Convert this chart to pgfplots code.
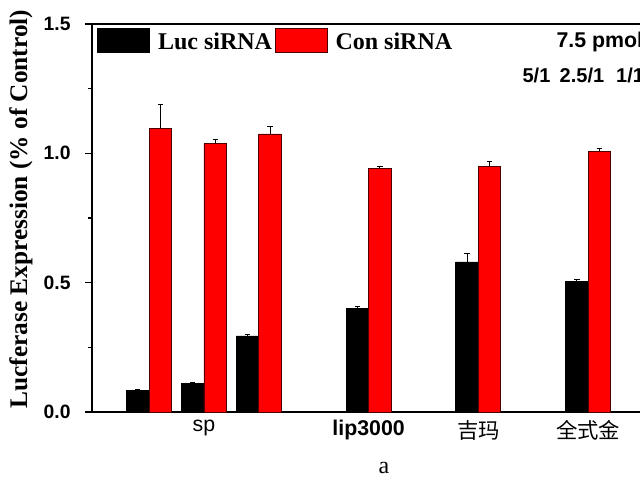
\documentclass[border=0pt]{standalone}
\usepackage{fontspec}
\setmainfont{Liberation Serif}
\setsansfont{Liberation Sans}
\newfontfamily\cjk{Noto Sans CJK SC}
\usepackage{pgfplots}
\usepackage{pgfplotstable}
\pgfplotsset{compat=1.18}
\pgfplotstableread{
x   l      le     c      ce
0   0.085  0.003  1.097  0.093
1   0.110  0.006  1.039  0.015
2   0.294  0.004  1.075  0.028
4   0.400  0.009  0.942  0.006
6   0.580  0.033  0.951  0.017
8   0.504  0.008  1.009  0.008
}\data
\begin{document}
\begin{tikzpicture}
\begin{axis}[
  name=ax, at={(0,0)}, anchor=south west,
  scale only axis, width=413.25pt, height=291pt,
  xmin=-1.04, xmax=9.0, ymin=0, ymax=1.5,
  clip=false,
  axis line style={line width=1.6pt},
  ytick={0,0.5,1,1.5}, minor ytick={0.25,0.75,1.25},
  ytick pos=left, tick align=outside,
  major tick length=5pt, minor tick length=3pt,
  tick style={line width=1.2pt, black},
  yticklabel style={font=\fontsize{14.5}{16}\selectfont\sffamily\bfseries, xshift=-7.5pt,
    /pgf/number format/.cd, fixed, fixed zerofill, precision=1, assume math mode=true},
  xtick={1,4,6,8},
  xticklabels={{\fontsize{16}{18}\selectfont\sffamily sp},
               {\fontsize{16}{18}\selectfont\sffamily\bfseries lip3000},
               {\fontsize{16}{18}\selectfont\cjk 吉玛},
               {\fontsize{16}{18}\selectfont\cjk 全式金}},
  x tick style={draw=none},
  xticklabel style={inner sep=0pt, yshift=-1pt},
  legend columns=2,
  legend image code/.code={\draw[#1, line width=0.6pt] (0pt,-2.5pt) rectangle (39pt,15.5pt);},
  legend style={at={(rel axis cs:0,1)}, anchor=north west, xshift=3.75pt, yshift=-2.8pt,
    draw=none, fill=none, inner sep=0pt,
    font=\fontsize{18}{20}\selectfont\bfseries,
    nodes={inner sep=0pt, anchor=base west},
    /tikz/every odd column/.append style={column sep=6pt},
    /tikz/every even column/.append style={column sep=2pt}},
]
\addplot[ybar, bar width=0.41, bar shift=0, fill=black, draw=black, line width=0.6pt,
  error bars/.cd, y dir=plus, y explicit,
  error bar style={line width=0.7pt, black},
  error mark options={rotate=90, line width=0.7pt, mark size=2pt, black}]
  table[x expr=\thisrow{x}-0.205, y=l, y error=le] {\data};
\addlegendentry{Luc siRNA}
\addplot[ybar, bar width=0.41, bar shift=0, fill=red, draw=black!70!red, line width=0.6pt,
  error bars/.cd, y dir=plus, y explicit,
  error bar style={line width=0.7pt, black},
  error mark options={rotate=90, line width=0.7pt, mark size=2pt, black}]
  table[x expr=\thisrow{x}+0.205, y=c, y error=ce] {\data};
\addlegendentry{Con siRNA}
\node[anchor=base west, font=\fontsize{16}{18}\selectfont\sffamily\bfseries] at (axis cs:7.34,1.411) {7.5 pmol};
\node[anchor=base west, font=\fontsize{15}{17}\selectfont\sffamily\bfseries] at (axis cs:6.72,1.272) {5/1\hspace{7pt}2.5/1\hspace{9pt}1/1};
\node[anchor=center, font=\fontsize{18}{20}\selectfont] at (axis cs:4.28,-0.216) {a};
\node[rotate=90, anchor=center, font=\fontsize{19}{21}\selectfont\bfseries] at ([xshift=-53.25pt]rel axis cs:0,0.523) {Lucferase Expression (\% of Control)};
\end{axis}
\pgfresetboundingbox
\useasboundingbox ([xshift=-69pt,yshift=-50.25pt]ax.south west) rectangle ([xshift=411pt,yshift=309pt]ax.south west);
\end{tikzpicture}
\end{document}
